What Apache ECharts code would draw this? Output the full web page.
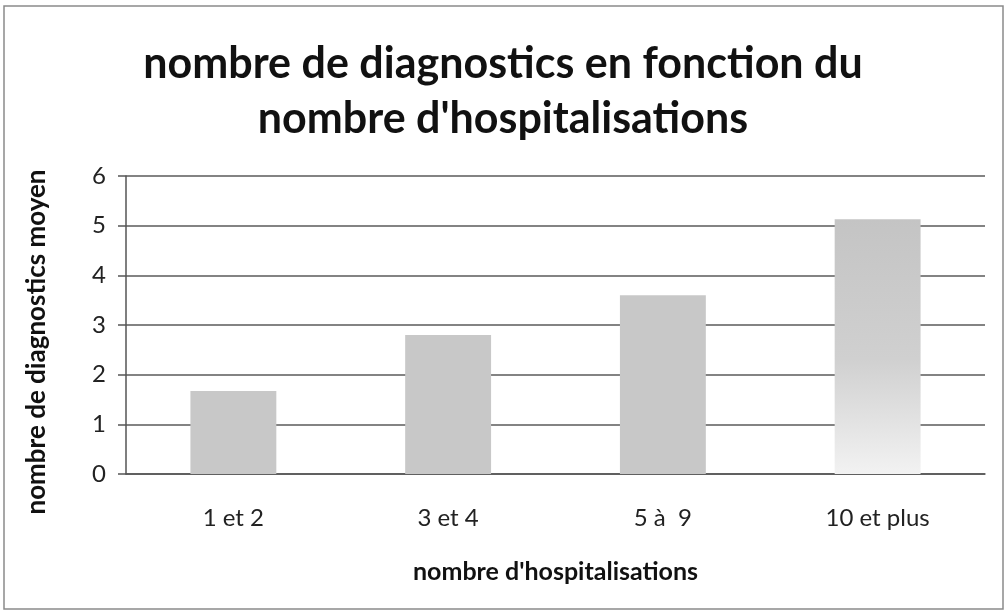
<!DOCTYPE html>
<html>
<head>
<meta charset="utf-8">
<script src="https://cdn.jsdelivr.net/npm/echarts@6/dist/echarts.min.js"></script>
<style>
  html, body { margin: 0; padding: 0; background: #fff; }
  #chart { width: 1006px; height: 614px; }
</style>
</head>
<body>
<div id="chart"></div>
<script>
const categories = ["1 et 2", "3 et 4", "5 à  9", "10 et plus"];
const meanDiagnostics = [1.67, 2.8, 3.6, 5.13];
const yTicks = [0, 1, 2, 3, 4, 5, 6];

const titleText = "nombre de diagnostics en fonction du\nnombre d'hospitalisations";
const xName = "nombre d'hospitalisations";
const yName = "nombre de diagnostics moyen";

const chart = echarts.init(document.getElementById("chart"), null, { renderer: "canvas" });
const font = "Lato, 'Open Sans', sans-serif";

const barColor = "#c8c8c8";
// the last bar fades out towards the bottom in the scan
const lastBar = new echarts.graphic.LinearGradient(0, 0, 0, 1, [
  { offset: 0, color: "#c4c4c4" },
  { offset: 0.55, color: "#d0d0d0" },
  { offset: 1, color: "#f2f2f2" }
]);

chart.setOption({
  animation: false,
  backgroundColor: "#fff",
  graphic: [{
    type: "rect",
    shape: { x: 4, y: 6, width: 999, height: 603 },
    style: { fill: "none", stroke: "#8a8a8a", lineWidth: 1.5 }
  }],
  title: {
    text: titleText,
    left: "center",
    top: 32,
    textStyle: { fontFamily: font, fontSize: 43, fontWeight: "bold", color: "#111", lineHeight: 55 }
  },
  grid: { left: 126, right: 21, top: 176, bottom: 140 },
  xAxis: {
    type: "category",
    data: categories,
    name: xName,
    nameLocation: "middle",
    nameGap: 85,
    nameTextStyle: { fontFamily: font, fontSize: 25, fontWeight: "bold", color: "#111" },
    axisLine: { show: true, lineStyle: { color: "#555", width: 1.5 } },
    axisTick: { show: false },
    axisLabel: { fontFamily: font, fontSize: 24, color: "#222", margin: 32 }
  },
  yAxis: {
    type: "value",
    min: 0,
    max: yTicks[yTicks.length - 1],
    interval: 1,
    name: yName,
    nameLocation: "middle",
    nameGap: 76,
    nameRotate: 90,
    nameTextStyle: { fontFamily: font, fontSize: 26, fontWeight: "bold", color: "#111", padding: [0, 34, 0, 0] },
    axisLine: { show: true, lineStyle: { color: "#555", width: 1.5 } },
    axisTick: { show: true, length: 8, lineStyle: { color: "#555", width: 1.5 } },
    axisLabel: { fontFamily: font, fontSize: 24, color: "#222", margin: 20 },
    splitLine: { show: true, lineStyle: { color: "#5a5a5a", width: 1.5 } }
  },
  series: [{
    type: "bar",
    data: meanDiagnostics.map((v, i) => ({
      value: v,
      itemStyle: { color: i === meanDiagnostics.length - 1 ? lastBar : barColor }
    })),
    barWidth: "40%",
    z: 3
  }]
});
</script>
</body>
</html>
